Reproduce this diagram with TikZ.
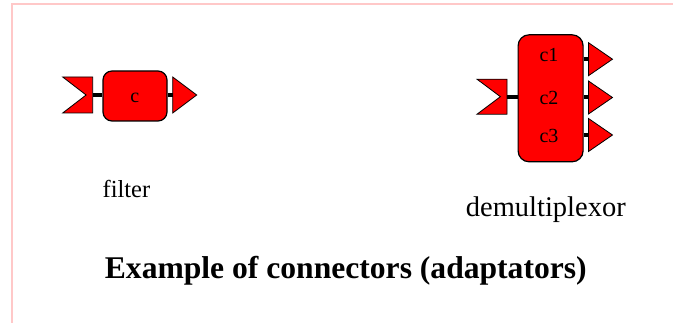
\documentclass[tikz,border=0pt]{standalone}
\usepackage{fontspec}
\setmainfont{Liberation Serif}
\usetikzlibrary{calc}
\definecolor{framepink}{RGB}{255,200,200}
\tikzset{
  comp/.style={draw=black, fill=red, line width=1.2pt, rounded corners=9pt, inner sep=0pt},
  inport/.style={minimum width=30pt, minimum height=36pt, inner sep=0pt, outer sep=0pt},
  outport/.style={minimum width=24pt, minimum height=33pt, inner sep=0pt, outer sep=0pt},
  portshape/.style={draw=black, fill=red, line width=0.8pt, line join=miter},
  stub/.style={draw=black, line width=4pt},
  lbl/.style={font=\fontsize{20}{22}\selectfont, anchor=base},
  caption/.style={anchor=base, inner sep=0pt},
}
% notched flag for an input port, triangle for an output port
\newcommand\drawinport[1]{\path[portshape] (#1.north west) -- (#1.north east) -- (#1.south east) -- (#1.south west) -- ($(#1.west)!0.78!(#1.east)$) -- cycle;}
\newcommand\drawoutport[1]{\path[portshape] (#1.north west) -- (#1.east) -- (#1.south west) -- cycle;}
\begin{document}
\begin{tikzpicture}[x=1pt, y=-1pt]
\useasboundingbox (0,0) rectangle (673,323);
% page frame
\draw[framepink, line width=2pt] (11.5,323) -- (11.5,4.5) -- (673,4.5);

% filter
\node[comp, minimum width=64pt, minimum height=50pt] (fbox) at (135,96) {};
\node[lbl] (fc) at (134.7,102.5) {c};
\node[inport] (fin) at (77.7,95) {};
\node[outport, minimum height=36pt] (fout) at (184.7,95) {};
\drawinport{fin}
\drawoutport{fout}
\draw[stub] (fin.east) -- (fin.east -| fbox.west);
\draw[stub] (fout.west -| fbox.east) -- (fout.west);
\node[caption, font=\fontsize{24.5}{28}\selectfont] (fcap) at (126.4,198) {filter};

% demultiplexor
\node[comp, rounded corners=11pt, minimum width=65pt, minimum height=127pt] (dbox) at (550.6,98.3) {};
\node[lbl] (d1) at (549,61.5) {c1};
\node[lbl] (d2) at (549,104.5) {c2};
\node[lbl] (d3) at (549,142.5) {c3};
\node[inport, minimum height=35pt] (din) at (492,96.7) {};
\node[outport] (dout1) at (600.5,59.2) {};
\node[outport] (dout2) at (600.5,97.5) {};
\node[outport] (dout3) at (600.5,135) {};
\drawinport{din}
\drawoutport{dout1}
\drawoutport{dout2}
\drawoutport{dout3}
\draw[stub] (din.east) -- (din.east -| dbox.west);
\foreach \p in {dout1,dout2,dout3}
  \draw[stub] (\p.west -| dbox.east) -- (\p.west);
\node[caption, font=\fontsize{28.5}{32}\selectfont] (dcap) at (545.8,216.5) {demultiplexor};

% title
\node[caption, font=\fontsize{31.6}{36}\selectfont\bfseries] (title) at (345.8,279) {Example of connectors (adaptators)};
\end{tikzpicture}
\end{document}
